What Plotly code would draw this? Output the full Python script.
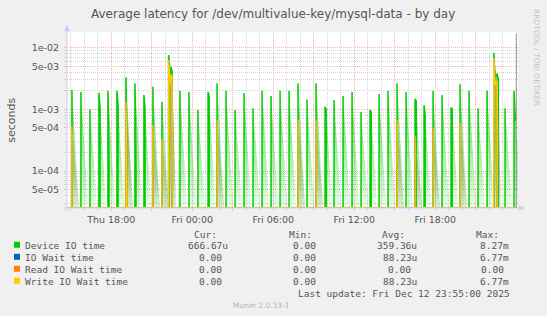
import math
from datetime import datetime, timedelta
import plotly.graph_objects as go

# ------------------------------------------------------------------ data
spike_times = [
    "2025-12-11 15:05", "2025-12-11 15:45", "2025-12-11 16:25", "2025-12-11 17:05",
    "2025-12-11 17:45", "2025-12-11 18:25", "2025-12-11 19:05", "2025-12-11 19:45",
    "2025-12-11 20:25", "2025-12-11 21:05", "2025-12-11 21:45", "2025-12-11 22:15",
    "2025-12-11 23:05", "2025-12-11 23:45", "2025-12-12 00:25", "2025-12-12 01:10",
    "2025-12-12 01:50", "2025-12-12 02:30", "2025-12-12 03:10", "2025-12-12 03:50",
    "2025-12-12 04:30", "2025-12-12 05:10", "2025-12-12 05:50", "2025-12-12 06:30",
    "2025-12-12 07:10", "2025-12-12 07:50", "2025-12-12 08:30", "2025-12-12 09:10",
    "2025-12-12 09:50", "2025-12-12 10:30", "2025-12-12 11:10", "2025-12-12 11:50",
    "2025-12-12 12:30", "2025-12-12 13:10", "2025-12-12 13:50", "2025-12-12 14:30",
    "2025-12-12 15:10", "2025-12-12 15:50", "2025-12-12 16:30", "2025-12-12 17:10",
    "2025-12-12 17:50", "2025-12-12 18:30", "2025-12-12 19:10", "2025-12-12 19:50",
    "2025-12-12 20:30", "2025-12-12 21:10", "2025-12-12 21:50", "2025-12-12 22:20",
    "2025-12-12 23:10", "2025-12-12 23:50",
]

# consecutive 5-minute samples (seconds) starting at each spike time
device_vals = [
    [2.06e-3], [1.93e-3], [1.0e-3], [1.86e-3, 1.06e-3],
    [2.0e-3, 1.25e-4], [2.0e-3, 1.17e-3], [3.3e-3, 1.25e-4], [2.64e-3, 1.0e-4],
    [1.7e-3, 1.0e-3], [2.33e-3], [1.33e-3], [7.6e-3, 3.0e-3, 4.8e-3, 4.2e-3],
    [2.0e-3], [1.91e-3], [9.75e-4], [1.91e-3, 1.6e-3],
    [2.64e-3], [2.0e-3], [9.75e-4], [1.84e-3],
    [1.04e-3], [2.0e-3], [1.64e-3], [2.0e-3],
    [2.0e-3], [2.64e-3], [1.45e-3], [2.64e-3],
    [1.1e-3, 1.0e-3], [1.42e-3], [1.64e-3], [1.91e-3],
    [9.05e-4], [9.75e-4, 9.0e-4], [1.77e-3], [2.0e-3],
    [2.64e-3], [1.91e-3], [1.47e-3, 1.38e-3], [1.17e-3, 7.8e-4],
    [2.0e-3], [1.7e-3], [1.04e-3, 1.02e-3], [2.58e-3],
    [2.0e-3], [1.04e-3], [2.0e-3], [8.27e-3, 3.0e-3, 3.7e-3, 3.7e-3, 3.0e-3],
    [1.04e-3], [2.0e-3, 6.6667e-4],
]

write_vals = [
    [5.2e-4], [], [], [],
    [], [], [1.33e-3, 4.9e-5], [],
    [], [5.6e-4], [3.3e-4], [6.3e-3, 2.5e-3, 3.6e-3, 3.4e-3],
    [], [], [], [],
    [6.7e-4], [], [], [],
    [], [], [], [],
    [], [6.7e-4], [], [6.7e-4],
    [], [], [], [],
    [], [], [], [],
    [6.7e-4], [], [3.7e-4], [],
    [5.0e-4], [], [], [6.1e-4],
    [], [], [], [6.77e-3, 2.5e-3, 2.8e-3, 2.8e-3],
    [], [],
]
io_wait_vals = write_vals            # IO Wait equals Write IO Wait here
read_vals = [[] for _ in spike_times]  # Read IO Wait is zero throughout

current_vals = [6.6667e-4, 0.0, 0.0, 0.0]

series_names = ["Device IO time", "IO Wait time", "Read IO Wait time", "Write IO Wait time"]
series_colors = ["#00cc00", "#0066b3", "#ff8000", "#ffcc00"]
series_rgb = ["0,204,0", "0,102,179", None, "255,204,0"]
cur_txt = ["666.67u", "0.00", "0.00", "0.00"]
min_txt = ["0.00", "0.00", "0.00", "0.00"]
avg_txt = ["359.36u", "88.23u", "0.00", "88.23u"]
max_txt = ["8.27m", "6.77m", "0.00", "6.77m"]

x_major = ["2025-12-11 15:00", "2025-12-11 18:00", "2025-12-11 21:00", "2025-12-12 00:00",
           "2025-12-12 03:00", "2025-12-12 06:00", "2025-12-12 09:00", "2025-12-12 12:00",
           "2025-12-12 15:00", "2025-12-12 18:00", "2025-12-12 21:00"]
x_major_txt = ["", "Thu 18:00", "", "Fri 00:00", "", "Fri 06:00", "", "Fri 12:00", "", "Fri 18:00", ""]
y_major = [5e-5, 1e-4, 5e-4, 1e-3, 5e-3, 1e-2]
y_major_txt = ["5e-05", "1e-04", "5e-04", "1e-03", "5e-03", "1e-02"]

data_start = "2025-12-11 14:40"
data_end = "2025-12-13 00:00"
last_update = "Last update: Fri Dec 12 23:55:00 2025"

# ------------------------------------------------------------------ geometry
W, H = 547, 316
PL, PR, PT, PB = 67, 518, 32, 208
X_RANGE = ["2025-12-11 14:43:06", "2025-12-13 00:07:33"]
Y_RANGE = [-4.6, -1.746]
FLOOR = 10 ** Y_RANGE[0]
STEP = timedelta(minutes=5)
DECAY = timedelta(minutes=32)


def px(x):
    return (x - PL) / (PR - PL)


def py(y):
    return (PB - y) / (PB - PT)


def ts(s):
    return datetime.strptime(s, "%Y-%m-%d %H:%M")


def line_xy(vals_list, cur):
    xs, ys = [ts(data_start)], [FLOOR]
    for t, vals in zip(spike_times, vals_list):
        if not vals:
            continue
        t0 = ts(t)
        xs.append(t0); ys.append(FLOOR)
        for i, v in enumerate(vals):
            xs.append(t0 + i * STEP); ys.append(max(v, FLOOR))
        xs.append(t0 + (len(vals) - 1) * STEP); ys.append(FLOOR)
    if cur > 0:
        xs[-1], ys[-1] = ts(data_end), cur
    else:
        xs.append(ts(data_end)); ys.append(FLOOR)
    return xs, ys


def wedge_xy(vals_list):
    xs, ys = [], []
    lf = math.log10(FLOOR)
    for t, vals in zip(spike_times, vals_list):
        if not vals:
            continue
        t0 = ts(t)
        l0 = math.log10(vals[0])
        xs += [t0, t0]; ys += [FLOOR, vals[0]]
        for i, v in enumerate(vals[1:], start=1):
            f = (i * STEP) / DECAY
            env = l0 + (lf - l0) * f
            if v > 0 and math.log10(v) > env:
                xs.append(t0 + i * STEP); ys.append(v)
        xs += [t0 + DECAY, None]; ys += [FLOOR, None]
    return xs, ys


all_vals = [device_vals, io_wait_vals, read_vals, write_vals]

fig = go.Figure()
for k in range(4):
    if series_rgb[k]:
        wx, wy = wedge_xy(all_vals[k])
        c = series_rgb[k]
        fig.add_trace(go.Scatter(
            x=wx, y=wy, mode="lines", fill="toself",
            fillcolor=f"rgba({c},0.4)",
            fillgradient=dict(type="vertical",
                              colorscale=[[0, f"rgba({c},0.08)"], [0.5, f"rgba({c},0.45)"],
                                          [0.75, f"rgba({c},0.6)"], [1, f"rgba({c},0.65)"]]),
            line=dict(width=0), hoverinfo="skip", connectgaps=False))
    lx, ly = line_xy(all_vals[k], current_vals[k])
    fig.add_trace(go.Scatter(x=lx, y=ly, mode="lines",
                             line=dict(color=series_colors[k], width=1.5),
                             name=series_names[k]))

RED = "#f8b4b4"
GRAY = "#d4d4d4"
AXIS = "#c9cff2"
TXT = "#555555"
DASH = "1px,1px"

x_minor = []
t = ts("2025-12-11 15:00")
while t < ts("2025-12-12 23:30"):
    if t.hour % 3 != 0:
        x_minor.append(t)
    t += timedelta(hours=1)

y_minor = []
for e in (-5, -4, -3, -2):
    for m in range(2, 10):
        if m != 5:
            y_minor.append(m * 10 ** e)

tickfont = dict(family="DejaVu Sans", size=9.5, color=TXT)

fig.update_layout(
    width=W, height=H, autosize=False,
    margin=dict(l=PL, r=W - PR, t=PT, b=H - PB, pad=0),
    paper_bgcolor="#f0f0f0", plot_bgcolor="#ffffff",
    showlegend=False,
    xaxis=dict(type="date", range=X_RANGE, tickmode="array", tickvals=x_major,
               ticktext=x_major_txt, showgrid=True, gridcolor=RED, griddash=DASH,
               gridwidth=1, ticks="outside", ticklen=2, tickcolor=RED,
               tickfont=tickfont, showline=False, zeroline=False,
               ticklabelstandoff=1,
               minor=dict(tickmode="array", tickvals=x_minor, showgrid=True,
                          gridcolor=GRAY, griddash=DASH, ticks="outside",
                          ticklen=2, tickcolor=GRAY)),
    yaxis=dict(type="log", range=Y_RANGE, tickmode="array", tickvals=y_major,
               ticktext=y_major_txt, showgrid=True, gridcolor=RED, griddash=DASH,
               gridwidth=1, ticks="outside", ticklen=2, tickcolor=RED,
               tickfont=tickfont, showline=False, zeroline=False,
               ticklabelstandoff=3,
               minor=dict(tickmode="array", tickvals=y_minor, showgrid=True,
                          gridcolor=GRAY, griddash=DASH, ticks="outside",
                          ticklen=2, tickcolor=GRAY)),
)

shapes = [
    dict(type="line", xref="paper", yref="paper", x0=px(67), x1=px(67),
         y0=py(211), y1=py(29), line=dict(color=AXIS, width=1)),
    dict(type="path", xref="paper", yref="paper",
         path=f"M {px(64.5)},{py(31)} L {px(69.5)},{py(31)} L {px(67)},{py(25.5)} Z",
         fillcolor=AXIS, line=dict(color=AXIS, width=0.5)),
    dict(type="line", xref="paper", yref="paper", x0=px(64), x1=px(521),
         y0=py(208), y1=py(208), line=dict(color=AXIS, width=1)),
    dict(type="path", xref="paper", yref="paper",
         path=f"M {px(519)},{py(205.5)} L {px(519)},{py(210.5)} L {px(524.5)},{py(208)} Z",
         fillcolor=AXIS, line=dict(color=AXIS, width=0.5)),
    dict(type="line", xref="x", yref="paper", x0=data_end, x1=data_end,
         y0=0, y1=py(33.3), line=dict(color="#8c8c8c", width=1)),
]

row_y = [244.8, 256.8, 268.8, 280.8]
for k in range(4):
    shapes.append(dict(type="rect", xref="paper", yref="paper",
                       x0=px(14), x1=px(20), y0=py(row_y[k] - 3), y1=py(row_y[k] + 3),
                       fillcolor=series_colors[k], line=dict(width=0)))
fig.update_layout(shapes=shapes)

MONO = "DejaVu Sans Mono"
CW = 5.71
ann = []


def text(x, y, s, size=9.5, color=TXT, family=MONO, xanchor="left", angle=0):
    ann.append(dict(x=px(x), y=py(y), xref="paper", yref="paper", text=s,
                    showarrow=False, xanchor=xanchor, yanchor="middle",
                    font=dict(family=family, size=size, color=color),
                    textangle=angle, borderpad=0, borderwidth=0))


text(273.3, 14, "Average latency for /dev/multivalue-key/mysql-data - by day",
     size=12, family="DejaVu Sans", xanchor="center")
text(10.7, 120, "seconds", size=11, family="DejaVu Sans", xanchor="center", angle=-90)
text(537, 57, "RRDTOOL / TOBI OETIKER", size=7.5, color="#c4c4c4",
     family="DejaVu Sans", xanchor="center", angle=90)

for lab, x in (("Cur:", 194.0), ("Min:", 288.7), ("Avg:", 382.3), ("Max:", 476.0)):
    text(x, 234, lab)

col_right = [227.7, 321.7, 416.7, 509.3]
for k in range(4):
    yk = row_y[k] + 0.8
    text(25.3, yk, series_names[k])
    for c, col in enumerate((cur_txt, min_txt, avg_txt, max_txt)):
        s = col[k]
        r = col_right[c] - (CW if s[-1].isdigit() else 0)
        text(r, yk, s, xanchor="right")

text(297.7, 293.3, last_update)
text(261.3, 305.3, "Munin 2.0.33-1", size=7.5, color="#b4b4b4", family="DejaVu Sans",
     xanchor="center")

fig.update_layout(annotations=ann)
fig.write_html("out.html")
